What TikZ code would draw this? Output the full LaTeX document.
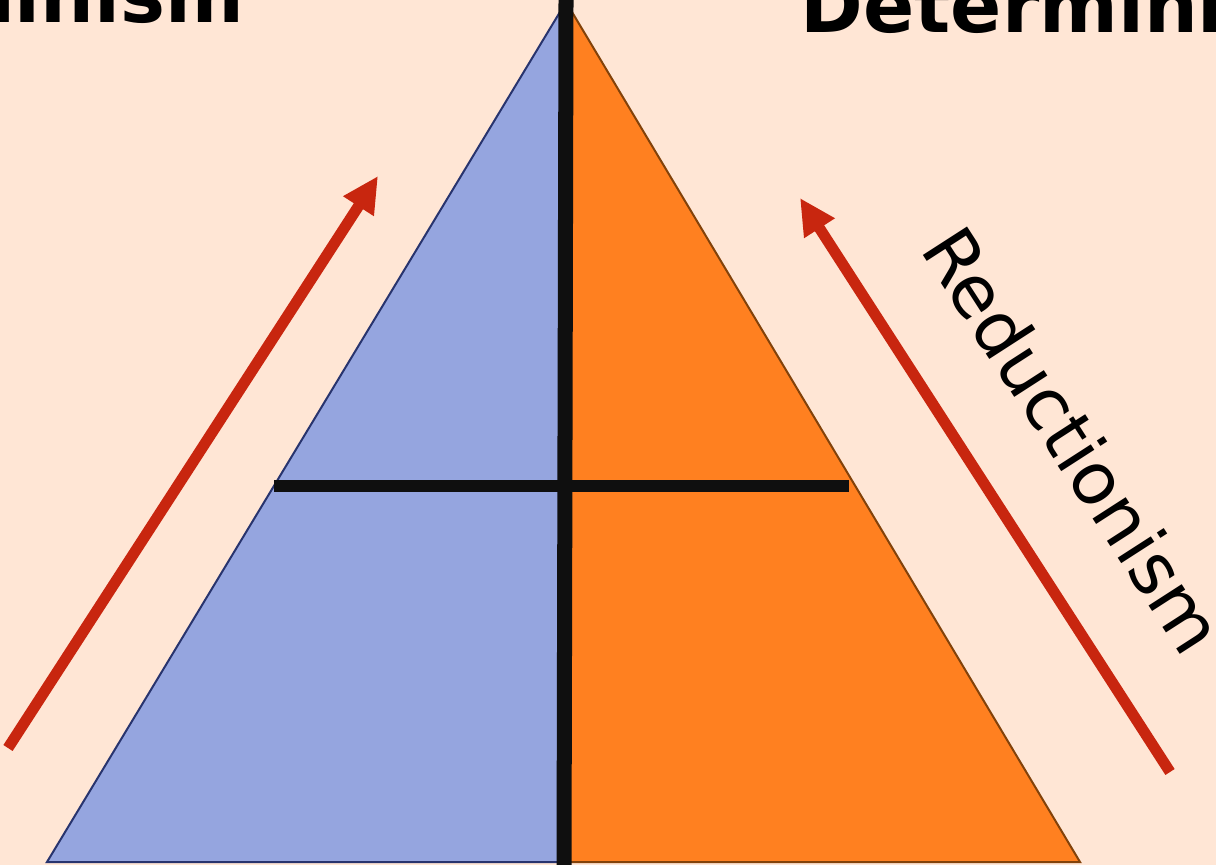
\documentclass[tikz,border=0pt]{standalone}
\usepackage{fontspec}
\setmainfont{DejaVu Sans}
\usetikzlibrary{arrows.meta}
\definecolor{peach}{RGB}{255,230,213}
\definecolor{sideblue}{RGB}{149,165,223}
\definecolor{edgeblue}{RGB}{40,52,110}
\definecolor{sideorange}{RGB}{255,128,32}
\definecolor{edgebrown}{RGB}{130,66,10}
\definecolor{arrowred}{RGB}{200,38,15}
\definecolor{barblack}{RGB}{15,15,15}
\tikzset{
    title/.style={font=\fontsize{21.5}{26}\selectfont\bfseries, inner sep=0pt},
    sidelabel/.style={font=\fontsize{20.5}{24}\selectfont, inner sep=0pt},
    redarrow/.style={-{Triangle[length=0.36cm, width=0.34cm]}, line width=0.11cm, draw=arrowred},
    bar/.style={draw=barblack, line width=0.15cm},
}
\begin{document}
\begin{tikzpicture}[x=0.01cm, y=-0.01cm]
    \useasboundingbox (0,0) rectangle (1216,865);
    \clip (0,0) rectangle (1216,865);
    \fill[peach] (0,0) rectangle (1216,865);

    % Corners of the pyramid
    \coordinate (apex) at (566,2);
    \coordinate (baseL) at (47,862);
    \coordinate (baseM) at (564,862);
    \coordinate (baseR) at (1080,862);

    % Two halves
    \filldraw[fill=sideblue, draw=edgeblue, line width=0.02cm, line join=miter] (apex) -- (baseL) -- (baseM) -- cycle;
    \filldraw[fill=sideorange, draw=edgebrown, line width=0.02cm, line join=miter] (apex) -- (baseR) -- (baseM) -- cycle;

    % Cross bars
    \coordinate (vtop) at (566,0);
    \coordinate (vbot) at (564,865);
    \coordinate (hleft) at (274,486);
    \coordinate (hright) at (849,486);
    \draw[bar] (vtop) -- (vbot);
    \draw[bar, line width=0.12cm] (hleft) -- (hright);

    % Arrows
    \coordinate (la) at (8,748);
    \coordinate (lb) at (378,176);
    \coordinate (ra) at (1170,772);
    \coordinate (rb) at (800,198);
    \draw[redarrow] (la) -- (lb);
    \draw[redarrow] (ra) -- (rb);

    % Labels
    \node[title, anchor=base east] (indet) at (245,23) {Indeterminism};
    \node[title, anchor=base west] (det) at (800,33) {Determinism};
    \node[sidelabel, rotate=-57.2] (red) at (1074,440) {Reductionism};
\end{tikzpicture}
\end{document}
